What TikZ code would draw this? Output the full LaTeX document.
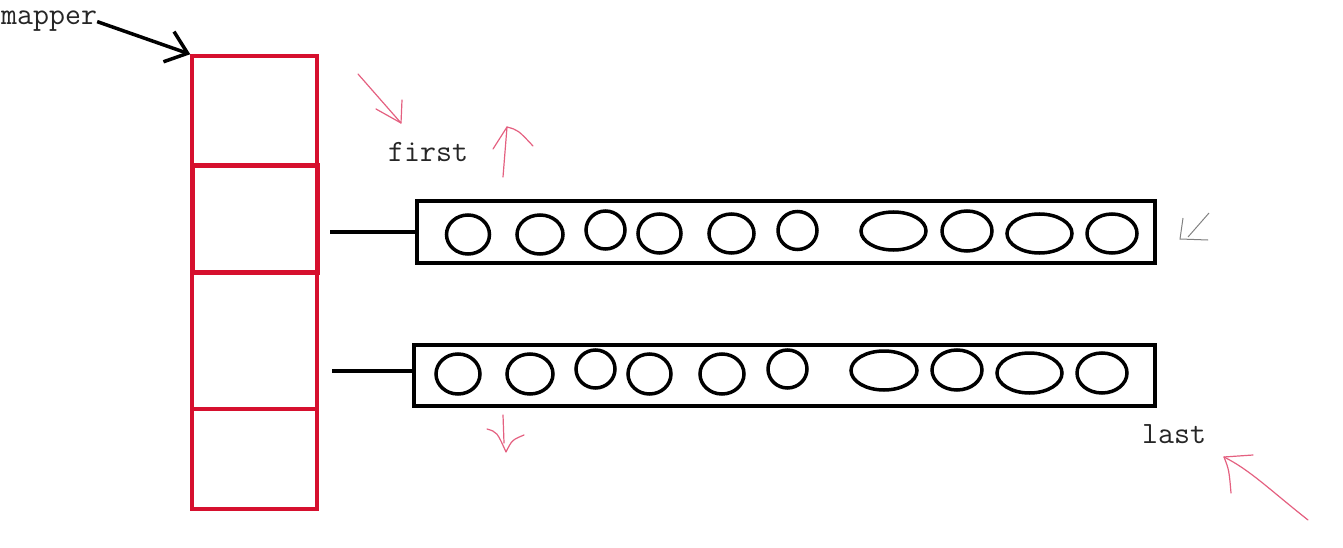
\documentclass[tikz,border=0pt]{standalone}
\usepackage{fontspec}
\usepackage{tikz}
\usetikzlibrary{shapes.geometric, arrows.meta}
\definecolor{mapred}{RGB}{214,16,46}
\definecolor{penpink}{RGB}{228,96,128}
\tikzstyle{cell} = [rectangle, draw=mapred, line width=3.5pt, minimum width=125pt, inner sep=0pt]
\tikzstyle{bar} = [rectangle, draw=black, line width=4pt, minimum height=61pt, inner sep=0pt]
\tikzstyle{bead} = [ellipse, draw=black, line width=3.5pt, inner sep=0pt]
\tikzstyle{word} = [font=\ttfamily\fontsize{31}{36}\selectfont, inner sep=0pt, anchor=base west, text=black!85]
\tikzstyle{pen} = [penpink, line width=1.2pt, line cap=round, line join=round]
\tikzstyle{arrow} = [line width=3.5pt,-{Straight Barb[length=20pt,width=32pt]}]

\begin{document}
\begin{tikzpicture}[x=1pt, y=-1pt]
    \useasboundingbox (0,0) rectangle (1343,548);
    % mapper column
    \node (cell1) [cell, minimum height=110pt] at (254.5,111) {};
    \node (cell2) [cell, minimum height=106pt, line width=5pt] at (254.5,219) {};
    \node (cell3) [cell, minimum height=137pt] at (254.5,340.5) {};
    \node (cell4) [cell, minimum height=100pt] at (254.5,459) {};
    \node (mapper) [word] at (1,25) {mapper};
    \draw [arrow] (mapper.east) -- (cell1.north west);

    % lists
    \node (bar1) [bar, minimum width=738pt] at (786,232) {};
    \node (bar2) [bar, minimum width=741pt] at (784.5,375) {};
    \coordinate (from1) at (330,232);
    \coordinate (from2) at (332,371);
    \draw [line width=3.5pt] (from1) -- (from1 -| bar1.west);
    \draw [line width=3.5pt] (from2) -- (from2 -| bar2.west);

    \node (b11) [bead, minimum width=43pt, minimum height=39pt] at (468,234.5) {};
    \node (b12) [bead, minimum width=46pt, minimum height=39pt] at (540,234.5) {};
    \node (b13) [bead, minimum width=39pt, minimum height=38pt] at (605.5,230) {};
    \node (b14) [bead, minimum width=43pt, minimum height=39pt] at (659.5,233.5) {};
    \node (b15) [bead, minimum width=45pt, minimum height=39pt] at (731.5,233.5) {};
    \node (b16) [bead, minimum width=39pt, minimum height=38pt] at (797.5,230.5) {};
    \node (b17) [bead, minimum width=65pt, minimum height=38pt] at (893.5,231) {};
    \node (b18) [bead, minimum width=50pt, minimum height=40pt] at (967,231) {};
    \node (b19) [bead, minimum width=65pt, minimum height=39pt] at (1039.5,233.5) {};
    \node (b110) [bead, minimum width=50pt, minimum height=39pt] at (1112,233.5) {};

    \node (b21) [bead, minimum width=44pt, minimum height=40pt] at (458,374) {};
    \node (b22) [bead, minimum width=46pt, minimum height=40pt] at (530,374) {};
    \node (b23) [bead, minimum width=39pt, minimum height=38pt] at (595.5,369) {};
    \node (b24) [bead, minimum width=43pt, minimum height=40pt] at (649.5,374) {};
    \node (b25) [bead, minimum width=44pt, minimum height=40pt] at (722,374) {};
    \node (b26) [bead, minimum width=39pt, minimum height=38pt] at (787.5,369) {};
    \node (b27) [bead, minimum width=66pt, minimum height=39pt] at (884,370.5) {};
    \node (b28) [bead, minimum width=50pt, minimum height=40pt] at (957,370) {};
    \node (b29) [bead, minimum width=65pt, minimum height=40pt] at (1029.5,373) {};
    \node (b210) [bead, minimum width=50pt, minimum height=40pt] at (1102,373) {};

    % labels
    \node (first) [word] at (388,162) {first};
    \node (last) [word] at (1142,443) {last};

    % pen marks
    \draw [pen] (358,74) -- (401,123);
    \draw [pen] (376,109) -- (401,123) -- (402,100);
    \draw [pen] (503,177) -- (507,127);
    \draw [pen] (493,149) -- (507,127) .. controls (518,130) .. (533,146);
    \draw [pen] (503,415) -- (504,443);
    \draw [pen] (487,429) .. controls (497,432) .. (506,452) .. controls (512,440) .. (524,435);
    \draw [pen] (1308,520) .. controls (1270,490) and (1250,470) .. (1224,457);
    \draw [pen] (1253,455) -- (1224,457) .. controls (1229,470) .. (1231,493);
    \draw [gray, line width=1pt] (1209,213) -- (1188,237);
    \draw [gray, line width=1pt] (1183,218) -- (1180,239) -- (1208,240);
\end{tikzpicture}
\end{document}
